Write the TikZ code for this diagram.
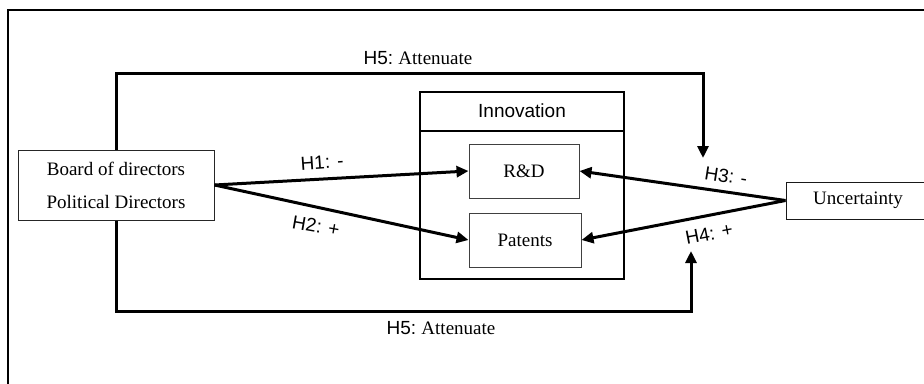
\documentclass[tikz,border=0pt]{standalone}
\usepackage{fontspec}
\setmainfont{Liberation Serif}
\setsansfont{Liberation Sans}
\usetikzlibrary{arrows.meta}
\begin{document}
\begin{tikzpicture}[x=1pt,y=-1pt,
  every node/.style={font=\fontsize{19}{23}\selectfont},
  thinbox/.style={draw=black!75, line width=1pt, inner sep=0pt, anchor=center},
  conn/.style={line width=3pt, line join=miter, -{Triangle[length=12pt,width=11pt]}},
  lbl/.style={font=\sffamily\fontsize{19}{23}\selectfont, inner sep=0pt}
]
\useasboundingbox (0,0) rectangle (924,383);
\clip (0,0) rectangle (924,383);
% outer frame (partially visible)
\draw[line width=2pt] (8,400) -- (8,10) -- (940,10);

% nodes
\node[thinbox, draw=black!85, minimum width=196pt, minimum height=70pt, align=center,
      font=\fontsize{19}{33}\selectfont] (board) at (116,185) {Board of directors\\Political Directors};
\draw[line width=1.8pt] (420,92) rectangle (624,279);
\draw[line width=1.8pt] (420,131) -- (624,131);
\node[lbl] (inno) at (522,111) {Innovation};
\node[thinbox, minimum width=110pt, minimum height=54pt] (rd) at (524,171) {R\&D};
\node[thinbox, minimum width=112pt, minimum height=54pt] (pat) at (525,240) {Patents};
\node[thinbox, draw=black!90, minimum width=144pt, minimum height=37pt] (unc) at (858,200.5) {Uncertainty};

% coordinates for loops
\coordinate (t1) at (116,73);
\coordinate (t2) at (703,73);
\coordinate (t3) at (703,158);
\coordinate (b1) at (116,311);
\coordinate (b2) at (691,311);
\coordinate (b3) at (691,251);

% connectors
\draw[conn] (board.north) -- (t1) -- (t2) -- (t3);
\draw[conn] (board.south) -- (b1) -- (b2) -- (b3);
\draw[conn] (board.east) -- (rd.west);
\draw[conn] (board.east) -- (pat.west);
\draw[conn] (unc.west) -- (rd.east);
\draw[conn] (unc.west) -- (pat.east);

% labels
\node[inner sep=0pt] (h5t) at (418,58) {\sffamily H5:\ \rmfamily Attenuate};
\node[inner sep=0pt] (h5b) at (441,328) {\sffamily H5:\ \rmfamily Attenuate};
\node[lbl, rotate=4] (h1) at (322,162) {H1: -};
\node[lbl, rotate=-10] (h2) at (316,226) {H2: +};
\node[lbl, rotate=-9] (h3) at (726,176) {H3: -};
\node[lbl, rotate=11] (h4) at (709,234) {H4: +};
\end{tikzpicture}
\end{document}
